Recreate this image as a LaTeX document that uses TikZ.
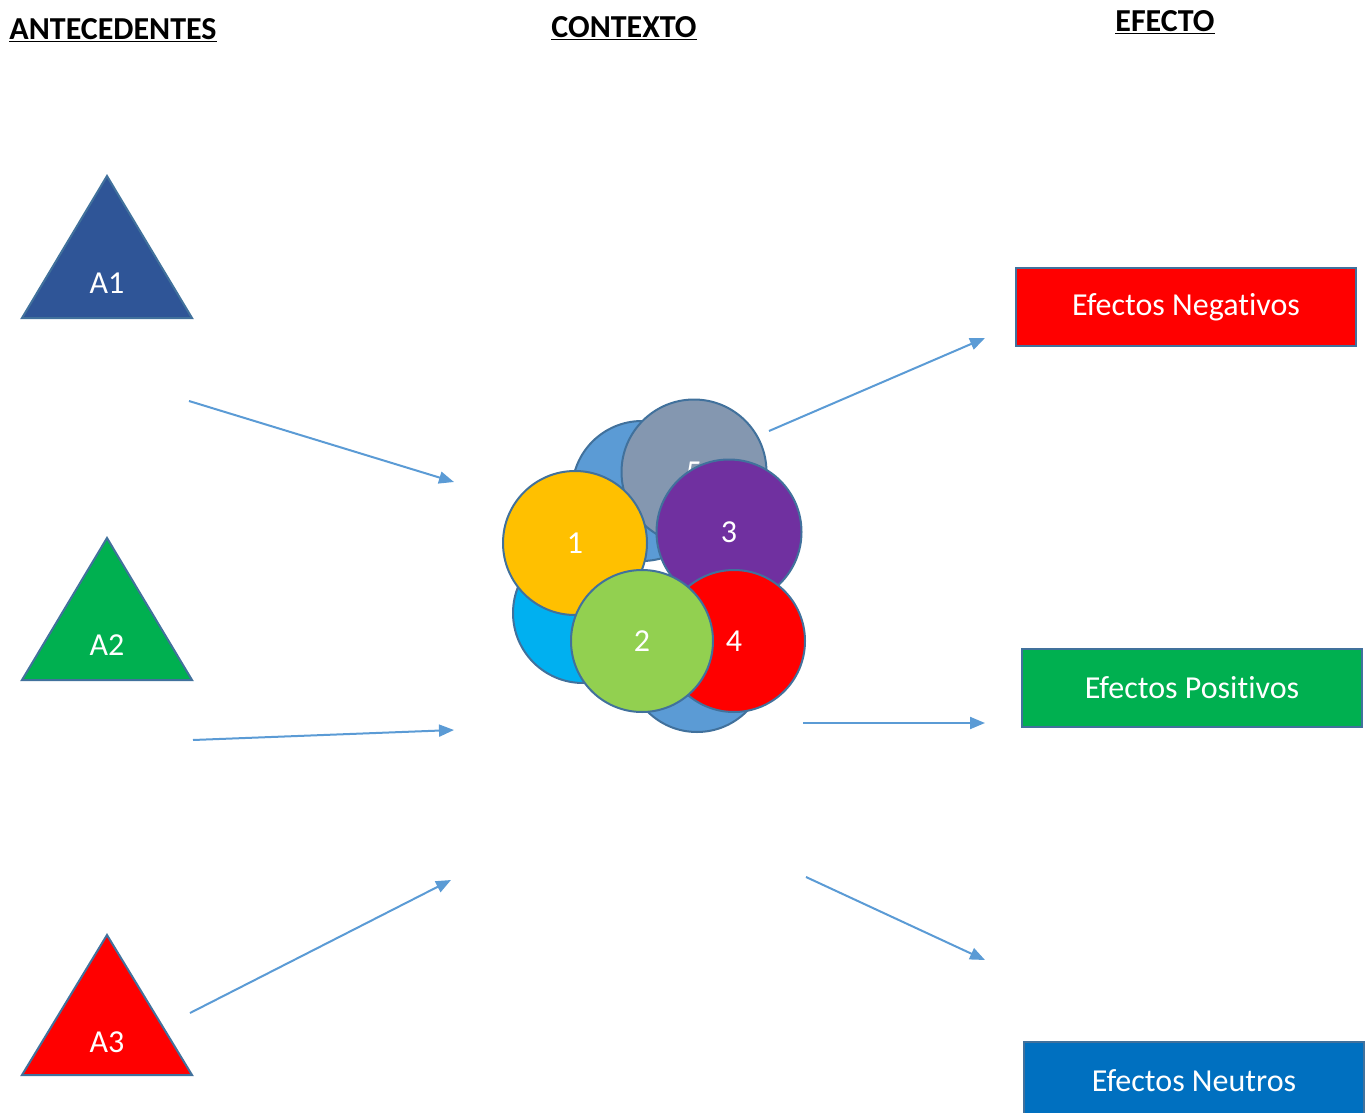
\documentclass[tikz,border=0pt]{standalone}
\usepackage{fontspec}
\setmainfont{Carlito}[Ligatures=NoCommon]
\usetikzlibrary{arrows.meta}

\definecolor{arrowblue}{HTML}{5B9BD5}
\definecolor{edgeblue}{HTML}{41719C}
\definecolor{navyfill}{HTML}{2F5597}
\definecolor{effgreen}{HTML}{00B050}
\definecolor{effblue}{HTML}{0070C0}
\definecolor{effred}{HTML}{FF0000}
\definecolor{slatefill}{HTML}{8497B0}
\definecolor{cyanfill}{HTML}{00B0F0}
\definecolor{amberfill}{HTML}{FFC000}
\definecolor{purplefill}{HTML}{7030A0}
\definecolor{limefill}{HTML}{92D050}

\begin{document}
\begin{tikzpicture}[
    x=1pt,y=-1pt,
    every node/.style={font=\fontsize{32}{38}\selectfont},
    title/.style={font=\fontsize{32}{38}\selectfont\bfseries,inner sep=0},
    tri/.style={draw=edgeblue,line width=2,line join=miter},
    ctx/.style={
        circle,draw=edgeblue,line width=2,
        minimum size=142,inner sep=0,text=white
    },
    box/.style={
        draw=edgeblue,line width=2,
        minimum width=340,minimum height=78,text=white
    },
    flow/.style={draw=arrowblue,line width=2,-{Triangle[length=15,width=12]}}
]
\useasboundingbox (0,0) rectangle (1371,1113);

% titulos
\node[title] (antec) at (113,30) {\underline{ANTECEDENTES}};
\node[title] (contx) at (624,28) {\underline{CONTEXTO}};
\node[title] (efect) at (1165,22) {\underline{EFECTO}};

% antecedentes
\draw[tri,fill=navyfill] (107,176) -- (192,318) -- (22,318) -- cycle;
\node[text=white] (a1) at (107,283) {A1};
\draw[tri,fill=effgreen] (107,538) -- (192,680) -- (22,680) -- cycle;
\node[text=white] (a2) at (107,645) {A2};
\draw[tri,fill=effred] (107,935) -- (192,1075) -- (22,1075) -- cycle;
\node[text=white] (a3) at (107,1042) {A3};

% contexto
\node[ctx,fill=arrowblue,minimum size=140] (c6) at (642,491) {};
\node[ctx,fill=slatefill,minimum size=145] (c5) at (694,472) {5};
\node[ctx,fill=cyanfill,minimum size=140] (c7) at (583,613) {};
\node[ctx,fill=arrowblue,minimum size=140] (c8) at (697,662) {};
\node[ctx,fill=amberfill,minimum size=144] (c1) at (575,543) {1};
\node[ctx,fill=purplefill,minimum size=145] (c3) at (729,532) {3};
\node[ctx,fill=effred] (c4) at (734,641) {4};
\node[ctx,fill=limefill] (c2) at (642,641) {2};

% efectos
\node[box,fill=effred] (neg) at (1186,307) {Efectos Negat\kern0pt ivos};
\node[box,fill=effgreen] (pos) at (1192,688) {Efectos Posit\kern0pt ivos};
\node[box,fill=effblue] (neu) at (1194,1081) {Efectos Neutros};

% flechas
\coordinate (a1out) at (189,401);
\coordinate (a1in) at (454,482);
\coordinate (a2out) at (193,740);
\coordinate (a2in) at (454,730);
\coordinate (a3out) at (190,1013);
\coordinate (a3in) at (451,880);
\coordinate (negout) at (769,431);
\coordinate (negin) at (985,338);
\coordinate (posout) at (803,723);
\coordinate (posin) at (985,723);
\coordinate (neuout) at (806,877);
\coordinate (neuin) at (985,960);
\draw[flow] (a1out) -- (a1in);
\draw[flow] (a2out) -- (a2in);
\draw[flow] (a3out) -- (a3in);
\draw[flow] (negout) -- (negin);
\draw[flow] (posout) -- (posin);
\draw[flow] (neuout) -- (neuin);
\end{tikzpicture}
\end{document}
